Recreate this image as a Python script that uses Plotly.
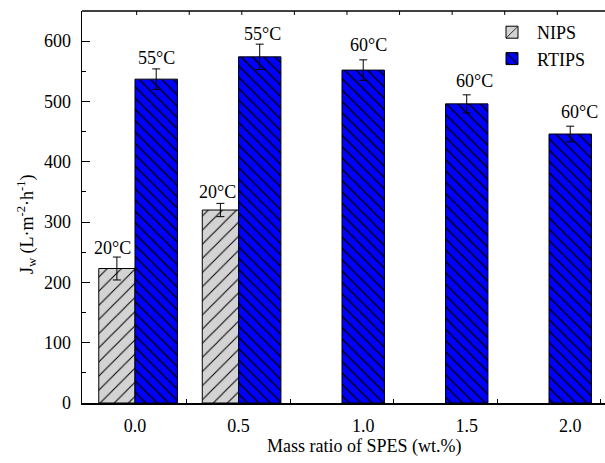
import plotly.graph_objects as go

# ---- data ----
categories = ["0.0", "0.5", "1.0", "1.5", "2.0"]
nips_values = [223, 320, None, None, None]
nips_errors = [19, 11, None, None, None]
rtips_values = [537, 574, 552, 496, 446]
rtips_errors = [17, 21, 17, 15, 13]
nips_temps = ["20°C", "20°C", None, None, None]
rtips_temps = ["55°C", "55°C", "60°C", "60°C", "60°C"]
y_ticks = [0, 100, 200, 300, 400, 500, 600]

# ---- styling ----
FONT = "Liberation Serif"
FS = 18
NIPS_W = 0.35
RTIPS_W = 0.41
W, H = 605, 463
L, R, T, B = 82, 0, 11, 60
PW, PH = W - L - R, H - T - B

idx = list(range(len(categories)))
tfont = dict(family=FONT, size=FS, color="black")

fig = go.Figure()
fig.add_trace(go.Bar(
    name="NIPS", x=idx, y=nips_values,
    width=NIPS_W, offset=-NIPS_W,
    marker=dict(color="#d3d3d3", line=dict(color="black", width=1),
                pattern=dict(shape="/", fgcolor="black", bgcolor="#d3d3d3",
                             size=10, solidity=0.1)),
    error_y=dict(type="data", array=nips_errors, color="black", thickness=1, width=4),
))
fig.add_trace(go.Bar(
    name="RTIPS", x=idx, y=rtips_values,
    width=RTIPS_W, offset=0,
    marker=dict(color="#0000ff", line=dict(color="black", width=1),
                pattern=dict(shape="\\", fgcolor="black", bgcolor="#0000ff",
                             size=8, solidity=0.18)),
    error_y=dict(type="data", array=rtips_errors, color="black", thickness=1, width=4),
))

# temperature labels
nips_nudge = [(-4, 1), (-3, 3)]
rtips_nudge = [(0, 3), (3, 2), (5, 7), (8, 6), (9, 6)]
annotations = []
for i, (v, e, t) in enumerate(zip(nips_values, nips_errors, nips_temps)):
    if v is None:
        continue
    dx, dy = nips_nudge[i]
    annotations.append(dict(x=i - NIPS_W / 2, y=v + e, text=t, showarrow=False,
                            yanchor="bottom", xanchor="center", xshift=dx, yshift=dy - 4,
                            font=tfont))
for i, (v, e, t) in enumerate(zip(rtips_values, rtips_errors, rtips_temps)):
    dx, dy = rtips_nudge[i]
    annotations.append(dict(x=i + RTIPS_W / 2, y=v + e, text=t, showarrow=False,
                            yanchor="bottom", xanchor="center", xshift=dx, yshift=dy - 4,
                            font=tfont))

# axis titles as annotations
annotations.append(dict(xref="paper", yref="paper", x=(364 - L) / PW, y=(H - B - 446) / PH,
                        text="Mass ratio of SPES (wt.%)", showarrow=False,
                        xanchor="center", yanchor="middle", font=tfont))
annotations.append(dict(xref="paper", yref="paper", x=(26 - L) / PW, y=(H - B - 224) / PH,
                        text="J<sub>w</sub> (L·m<sup>-2</sup>·h<sup>-1</sup>)", showarrow=False,
                        textangle=-90, xanchor="center", yanchor="middle", font=tfont))

# tick label positions: category centre when both bars exist, RTIPS centre otherwise
tick_pos = [i if nips_values[i] is not None else i + RTIPS_W / 2 for i in idx]
# top frame ticks every half category
top_ticks = [k / 2 for k in range(0, 2 * len(categories))]

x_lo, x_hi = -0.512, 4.541
fig.update_layout(
    template="none",
    width=W, height=H,
    margin=dict(l=L, r=R, t=T, b=B, autoexpand=False),
    plot_bgcolor="white", paper_bgcolor="white",
    barmode="overlay",
    font=tfont,
    showlegend=True,
    legend=dict(x=(487 - L) / PW, y=(H - B - 14) / PH, xanchor="left", yanchor="top",
                bgcolor="rgba(0,0,0,0)", font=tfont,
                tracegroupgap=0, itemwidth=40),
    xaxis=dict(range=[x_lo, x_hi], tickmode="array", tickvals=tick_pos, ticktext=categories,
               tickfont=tfont, automargin=False, fixedrange=True,
               ticks="", showline=True, linecolor="black", linewidth=1.5,
               showgrid=False, zeroline=False, ticklabelstandoff=6,
               minor=dict(tickmode="array", tickvals=[i + 0.5 for i in idx], showgrid=False,
                          ticks="inside", ticklen=4, tickcolor="black", tickwidth=1)),
    yaxis=dict(range=[0, 650], tickmode="array", tickvals=y_ticks,
               tickfont=tfont, automargin=False, fixedrange=True,
               ticks="inside", ticklen=8, tickcolor="black", tickwidth=1,
               showline=True, linecolor="black", linewidth=1.5,
               showgrid=False, zeroline=False, ticklabelstandoff=6,
               minor=dict(tickmode="linear", tick0=50, dtick=100, ticks="inside", showgrid=False,
                          ticklen=4, tickcolor="black", tickwidth=1)),
    annotations=annotations,
)
# top frame line with inward ticks
fig.add_shape(type="line", xref="paper", yref="paper", x0=0, x1=1, y0=1, y1=1,
              line=dict(color="black", width=1.5))
for tv in top_ticks:
    fig.add_shape(type="line", xref="x", yref="paper", x0=tv * 1.016 + 0.016, x1=tv * 1.016 + 0.016,
                  y0=1, y1=1 - 4 / PH, line=dict(color="black", width=1))

fig.write_html("out.html", config={"displayModeBar": False, "staticPlot": True},
               post_script="document.body.style.margin='0px';document.documentElement.style.overflow='hidden';")
